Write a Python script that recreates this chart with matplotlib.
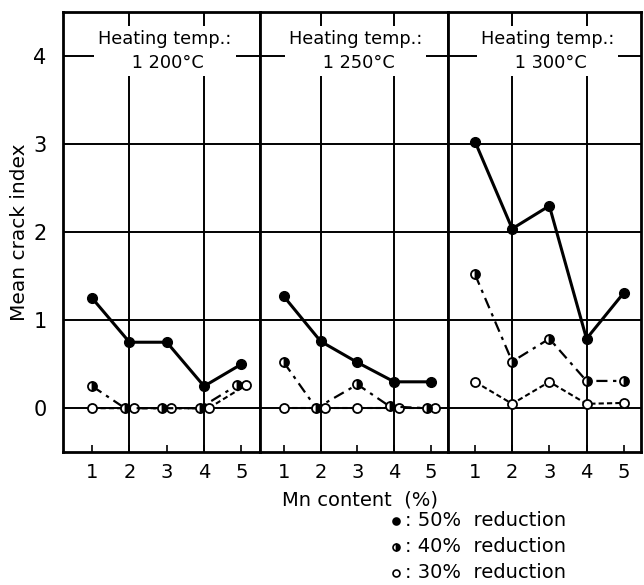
import matplotlib
matplotlib.use("Agg")
import matplotlib.pyplot as plt
from matplotlib.lines import Line2D
import numpy as np

plt.rcParams['font.family'] = ['DejaVu Sans']

mn_content = [1, 2, 3, 4, 5]
temps = ["1 200°C", "1 250°C", "1 300°C"]
tick_labels = ["1", "2", "3", "4", "5"]

red50 = [
    [1.25, 0.75, 0.75, 0.25, 0.50],
    [1.27, 0.76, 0.52, 0.30, 0.30],
    [3.03, 2.04, 2.30, 0.79, 1.31],
]
red40 = [
    [0.25, 0.00, 0.00, 0.00, 0.26],
    [0.52, 0.00, 0.27, 0.02, 0.00],
    [1.52, 0.53, 0.79, 0.31, 0.31],
]
red30 = [
    [0.00, 0.00, 0.00, 0.00, 0.26],
    [0.00, 0.00, 0.00, 0.00, 0.00],
    [0.30, 0.05, 0.30, 0.05, 0.06],
]

fig = plt.figure(figsize=(6.44, 5.85), dpi=100)
gs = fig.add_gridspec(1, 3, left=0.098, right=0.995, bottom=0.227, top=0.979,
                      wspace=0, width_ratios=[197, 188, 193])
xlims = [(0.22, 5.5), (0.35, 5.46), (0.27, 5.46)]

for i in range(3):
    ax = fig.add_subplot(gs[0, i])
    ax.set_xlim(*xlims[i])
    ax.set_ylim(-0.5, 4.5)
    for s in ax.spines.values():
        s.set_linewidth(2.0)
    for yv in [0, 1, 2, 3, 4]:
        ax.axhline(yv, color='black', lw=1.4, zorder=1)
    for xv in [2, 4]:
        ax.axvline(xv, color='black', lw=1.4, zorder=1)

    x = np.array(mn_content, dtype=float)
    v50 = np.array(red50[i]); v40 = np.array(red40[i]); v30 = np.array(red30[i])
    overlap = np.abs(v40 - v30) < 0.1
    x40 = x - np.where(overlap, 0.12, 0.0)
    x30 = x + np.where(overlap, 0.12, 0.0)

    ax.plot(x30, v30, color='black', lw=1.5, dashes=(2.5, 1.5), zorder=3,
            marker='o', ms=6.5, mfc='white', mec='black', mew=1.3)
    ax.plot(x40, v40, color='black', lw=1.6, dashes=(5, 2.5, 1.5, 2.5), zorder=4,
            marker='o', ms=6.5, mfc='black', mec='black', mew=1.3,
            fillstyle='right', markerfacecoloralt='white')
    ax.plot(x, v50, color='black', lw=2.2, zorder=5,
            marker='o', ms=7, mfc='black', mec='black')

    ax.text(2.95, 4.06, "Heating temp.:\n" + " " + temps[i], ha='center', va='center',
            fontsize=12.8, linespacing=1.45, zorder=6,
            bbox=dict(facecolor='white', edgecolor='none', pad=3))

    ax.set_xticks(mn_content)
    ax.set_xticklabels(tick_labels, fontsize=14)
    ax.tick_params(axis='x', direction='in', length=5, width=1.2, pad=8)
    if i == 0:
        ax.set_yticks([0, 1, 2, 3, 4])
        ax.set_yticklabels(["0", "1", "2", "3", "4"], fontsize=15)
        ax.tick_params(axis='y', length=0, pad=12)
        ax.set_ylabel("Mean crack index", fontsize=14.5, labelpad=3)
    else:
        ax.set_yticks([])

fig.text(360 / 644, 1 - 500 / 585, "Mn content  (%)", ha='center', va='center',
         fontsize=14)

legend_items = [("black", 'full', ": 50%  reduction"),
                ("black", 'right', ": 40%  reduction"),
                ("white", 'full', ": 30%  reduction")]
leg_y = [1 - 521 / 585, 1 - 547 / 585, 1 - 573 / 585]
for (fc, fs, label), yy in zip(legend_items, leg_y):
    fig.add_artist(Line2D([396 / 644], [yy], transform=fig.transFigure, marker='o',
                          ms=5, mfc=fc, mec='black', mew=1.2, fillstyle=fs,
                          markerfacecoloralt='white', ls='none'))
    fig.text(405 / 644, yy, label, ha='left', va='center', fontsize=14)

fig.savefig("out.png", dpi=100)
